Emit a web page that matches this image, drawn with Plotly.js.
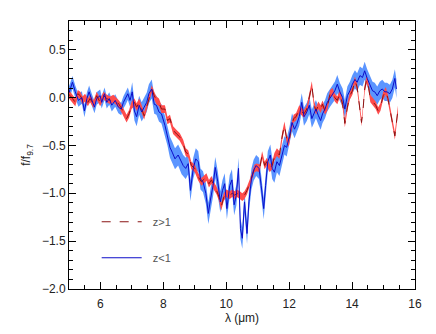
<!DOCTYPE html>
<html>
<head>
<meta charset="utf-8">
<script src="https://cdn.plot.ly/plotly-3.0.1.min.js"></script>
<style>
  body { margin: 0; background: #fff; }
  #graph { width: 436px; height: 334px; }
</style>
</head>
<body>
<div id="graph"></div>
<script>
// z>1 stack: wavelength (micron) and normalised flux
const lamHigh = [
  5.00, 5.04, 5.11, 5.20, 5.28, 5.36, 5.43, 5.51, 5.60, 5.67,
  5.78, 5.88, 5.99, 6.10, 6.20, 6.31, 6.41, 6.52, 6.59, 6.68,
  6.76, 6.83, 6.91, 6.99, 7.08, 7.15, 7.23, 7.31, 7.39, 7.47,
  7.54, 7.63, 7.71, 7.78, 7.86, 7.94, 8.05, 8.13, 8.21, 8.31,
  8.42, 8.52, 8.63, 8.71, 8.79, 8.89, 9.00, 9.11, 9.21, 9.28,
  9.37, 9.45, 9.53, 9.60, 9.69, 9.77, 9.84, 9.92, 10.00, 10.11,
  10.19, 10.27, 10.34, 10.43, 10.51, 10.58, 10.66, 10.74, 10.83, 10.90,
  10.97, 11.06, 11.14, 11.22, 11.29, 11.38, 11.46, 11.53, 11.61, 11.69,
  11.78, 11.85, 11.92, 11.99, 12.06, 12.14, 12.22, 12.32, 12.40, 12.47,
  12.56, 12.64, 12.72, 12.79, 12.85, 12.93, 13.00, 13.06, 13.14, 13.21,
  13.30, 13.38, 13.45, 13.53, 13.61, 13.70, 13.77, 13.85, 13.93, 14.01,
  14.09, 14.16, 14.25, 14.30, 14.35, 14.40, 14.46, 14.51, 14.58, 14.67,
  14.75, 14.83, 14.90, 14.99, 15.07, 15.14, 15.22, 15.30, 15.36, 15.41,
  15.46
];
const fHigh = [
  0.03, 0.02, -0.01, -0.05, 0.04, 0.02, -0.03, 0.00, -0.05, -0.01,
  -0.07, 0.02, -0.05, 0.02, -0.01, -0.03, -0.01, -0.05, -0.07, -0.12,
  -0.17, -0.22, -0.17, -0.08, -0.05, -0.10, -0.05, -0.12, -0.19, -0.10,
  -0.01, 0.09, 0.02, -0.03, -0.05, -0.12, -0.12, -0.24, -0.22, -0.34,
  -0.38, -0.41, -0.48, -0.57, -0.59, -0.71, -0.74, -0.83, -0.88, -0.86,
  -0.83, -0.90, -0.86, -0.92, -0.97, -1.04, -1.14, -1.04, -1.00, -1.02,
  -1.00, -1.02, -1.00, -1.02, -1.04, -1.02, -0.97, -0.90, -0.81, -0.74,
  -0.73, -0.74, -0.60, -0.71, -0.67, -0.74, -0.71, -0.62, -0.57, -0.60,
  -0.40, -0.29, -0.43, -0.47, -0.33, -0.22, -0.20, -0.12, -0.15, -0.17,
  -0.12, 0.00, 0.13, -0.07, -0.14, -0.08, -0.12, -0.07, -0.14, -0.10,
  0.04, 0.06, 0.00, -0.03, 0.04, -0.07, -0.27, -0.10, 0.02, 0.07,
  0.18, 0.11, -0.12, -0.26, -0.12, 0.09, 0.19, 0.14, -0.01, -0.05,
  -0.08, -0.14, -0.10, 0.02, 0.07, -0.01, -0.15, -0.29, -0.40, -0.26,
  -0.12
];
// half width of the red uncertainty band
const errHigh = 0.04;

// z<1 stack
const lamLow = [
  5.00, 5.07, 5.11, 5.20, 5.30, 5.41, 5.49, 5.57, 5.64, 5.73,
  5.81, 5.88, 5.99, 6.04, 6.13, 6.20, 6.28, 6.36, 6.47, 6.57,
  6.66, 6.73, 6.80, 6.87, 6.94, 7.01, 7.08, 7.15, 7.23, 7.31,
  7.39, 7.47, 7.54, 7.63, 7.71, 7.78, 7.86, 7.94, 8.05, 8.13,
  8.21, 8.28, 8.37, 8.47, 8.58, 8.63, 8.71, 8.79, 8.86, 8.95,
  9.03, 9.11, 9.18, 9.26, 9.35, 9.43, 9.50, 9.58, 9.65, 9.73,
  9.81, 9.88, 9.95, 10.02, 10.11, 10.18, 10.25, 10.32, 10.39, 10.45,
  10.51, 10.58, 10.66, 10.72, 10.80, 10.87, 10.95, 11.04, 11.11, 11.19,
  11.25, 11.32, 11.40, 11.46, 11.53, 11.61, 11.69, 11.78, 11.85, 11.92,
  12.01, 12.09, 12.17, 12.24, 12.32, 12.40, 12.47, 12.56, 12.64, 12.72,
  12.79, 12.85, 12.93, 13.00, 13.06, 13.14, 13.21, 13.30, 13.38, 13.45,
  13.53, 13.61, 13.70, 13.77, 13.85, 13.93, 14.01, 14.09, 14.16, 14.25,
  14.33, 14.40, 14.48, 14.56, 14.65, 14.72, 14.80, 14.88, 14.96, 15.04,
  15.11, 15.20, 15.28, 15.36, 15.41
];
const fLow = [
  0.05, 0.11, 0.16, 0.06, -0.03, 0.00, -0.14, -0.01, 0.06, -0.03,
  -0.10, -0.01, 0.02, -0.05, 0.04, -0.05, -0.01, -0.08, -0.03, -0.10,
  -0.12, -0.05, -0.01, 0.04, -0.03, 0.06, -0.14, -0.20, -0.08, -0.15,
  -0.10, -0.05, 0.04, 0.09, -0.07, -0.08, -0.15, -0.17, -0.29, -0.40,
  -0.52, -0.57, -0.64, -0.60, -0.69, -0.71, -0.74, -0.69, -0.97, -0.74,
  -0.64, -0.67, -0.85, -0.88, -1.00, -1.21, -1.06, -0.92, -0.73, -0.88,
  -1.09, -0.97, -0.90, -1.16, -0.92, -0.86, -1.12, -1.02, -0.74, -1.37,
  -1.47, -1.09, -1.42, -1.09, -0.85, -0.76, -0.71, -0.74, -0.92, -1.16,
  -0.92, -0.67, -0.60, -0.74, -0.78, -0.67, -0.71, -0.60, -0.50, -0.52,
  -0.40, -0.26, -0.33, -0.28, -0.20, -0.05, -0.20, -0.15, -0.08, -0.22,
  -0.17, -0.12, -0.19, -0.24, -0.17, -0.12, -0.05, 0.00, 0.04, 0.07,
  0.14, 0.06, 0.00, -0.12, 0.02, 0.07, 0.14, 0.19, 0.16, 0.23,
  0.21, 0.28, 0.20, 0.14, 0.07, 0.06, 0.02, 0.07, 0.09, 0.06,
  0.06, 0.04, 0.09, 0.20, 0.09
];
// half width of the blue band, by wavelength range: [upper edge, width]
const errLowStops = [[7.0, 0.065], [8.2, 0.1], [11.8, 0.11], [16.0, 0.095]];

function errAt(lam) {
  for (const s of errLowStops) {
    if (lam < s[0]) return s[1];
  }
  return errLowStops[errLowStops.length - 1][1];
}

function band(x, y, errFn, color) {
  const up = y.map((v, i) => v + errFn(x[i]));
  const lo = y.map((v, i) => v - errFn(x[i]));
  return {
    x: x.concat(x.slice().reverse()),
    y: up.concat(lo.reverse()),
    type: 'scatter',
    mode: 'lines',
    fill: 'toself',
    fillcolor: color,
    line: {width: 0},
    hoverinfo: 'skip',
    showlegend: false
  };
}

const font = 'Liberation Sans, Arial, sans-serif';

let data = [
  band(lamLow, fLow, errAt, '#5b95ff'),
  band(lamHigh, fHigh, () => errHigh, '#ff4c4c'),
  {
    x: lamHigh, y: fHigh, type: 'scatter', mode: 'lines',
    name: '\u00a0\u00a0z>1', legendgroup: 'a', legendrank: 1,
    line: {color: '#8a1414', width: 1, dash: 'dash'}
  },
  {
    x: lamLow, y: fLow, type: 'scatter', mode: 'lines',
    name: '\u00a0\u00a0z<1', legendgroup: 'b', legendrank: 2,
    line: {color: '#0c0cc8', width: 1}
  }
];

const axisStyle = {
  showline: true,
  linecolor: '#000',
  linewidth: 1,
  mirror: 'allticks',
  ticks: 'inside',
  ticklen: 7,
  tickcolor: '#000',
  showgrid: false,
  zeroline: false,
  tickfont: {family: font, size: 12, color: '#222'}
};

let layout = {
  width: 436,
  height: 334,
  margin: {l: 69, r: 21, t: 21, b: 45},
  paper_bgcolor: '#fff',
  plot_bgcolor: '#fff',
  showlegend: true,
  legend: {
    x: 0.08, y: 0.305, xanchor: 'left', yanchor: 'top',
    bgcolor: 'rgba(0,0,0,0)',
    traceorder: 'grouped',
    tracegroupgap: 17,
    itemwidth: 40,
    font: {family: font, size: 11, color: '#555'}
  },
  xaxis: Object.assign({}, axisStyle, {
    range: [5, 16],
    dtick: 2,
    tick0: 0,
    ticklabelstandoff: 4,
    minor: {dtick: 0.5, ticks: 'inside', ticklen: 4, tickcolor: '#000'},
    title: {text: 'λ (μm)', font: {family: font, size: 12, color: '#222'}, standoff: 3}
  }),
  yaxis: Object.assign({}, axisStyle, {
    range: [-2.0, 0.8],
    dtick: 0.5,
    tick0: 0,
    tickformat: '.1f',
    minor: {dtick: 0.1, ticks: 'inside', ticklen: 4, tickcolor: '#000'},
    title: {text: 'f/f<sub>9.7</sub>', font: {family: font, size: 12, color: '#222'}, standoff: 8}
  })
};

let config = {displayModeBar: false, staticPlot: true};

Plotly.newPlot('graph', data, layout, config);
</script>
</body>
</html>
